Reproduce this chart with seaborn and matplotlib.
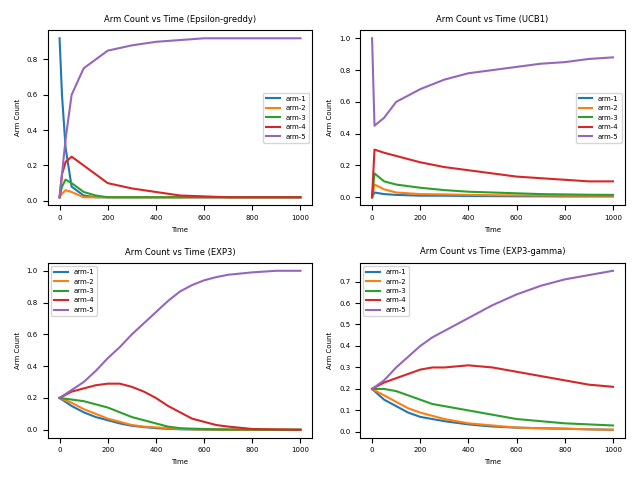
import matplotlib
matplotlib.use("Agg")
import matplotlib.pyplot as plt
import seaborn as sns
import pandas as pd

arms = ["arm-1", "arm-2", "arm-3", "arm-4", "arm-5"]

# Epsilon-greedy
eg_x = [0, 10, 25, 50, 100, 150, 200, 300, 400, 500, 600, 700, 800, 900, 1000]
eg_arm1 = [0.92, 0.6, 0.3, 0.08, 0.03, 0.02, 0.02, 0.02, 0.02, 0.02, 0.02, 0.02, 0.02, 0.02, 0.02]
eg_arm2 = [0.02, 0.04, 0.06, 0.05, 0.02, 0.02, 0.02, 0.02, 0.02, 0.02, 0.02, 0.02, 0.02, 0.02, 0.02]
eg_arm3 = [0.02, 0.08, 0.12, 0.10, 0.05, 0.03, 0.02, 0.02, 0.02, 0.02, 0.02, 0.02, 0.02, 0.02, 0.02]
eg_arm4 = [0.02, 0.15, 0.22, 0.25, 0.20, 0.15, 0.10, 0.07, 0.05, 0.03, 0.025, 0.02, 0.02, 0.02, 0.02]
eg_arm5 = [0.02, 0.15, 0.35, 0.60, 0.75, 0.80, 0.85, 0.88, 0.90, 0.91, 0.92, 0.92, 0.92, 0.92, 0.92]

# UCB1
ucb_x = [0, 10, 50, 100, 200, 300, 400, 500, 600, 700, 800, 900, 1000]
ucb_arm1 = [0.0, 0.03, 0.02, 0.015, 0.01, 0.01, 0.008, 0.007, 0.006, 0.006, 0.005, 0.005, 0.005]
ucb_arm2 = [0.0, 0.08, 0.05, 0.03, 0.02, 0.018, 0.015, 0.013, 0.012, 0.011, 0.01, 0.01, 0.01]
ucb_arm3 = [0.0, 0.15, 0.10, 0.08, 0.06, 0.045, 0.035, 0.03, 0.025, 0.02, 0.018, 0.016, 0.015]
ucb_arm4 = [0.0, 0.30, 0.28, 0.26, 0.22, 0.19, 0.17, 0.15, 0.13, 0.12, 0.11, 0.10, 0.10]
ucb_arm5 = [1.0, 0.45, 0.50, 0.60, 0.68, 0.74, 0.78, 0.80, 0.82, 0.84, 0.85, 0.87, 0.88]

# EXP3
e3_x = [0, 50, 100, 150, 200, 250, 300, 350, 400, 450, 500, 550, 600, 650, 700, 800, 900, 1000]
e3_arm1 = [0.2, 0.15, 0.11, 0.08, 0.06, 0.04, 0.025, 0.017, 0.01, 0.006, 0.003, 0.002, 0.001, 0, 0, 0, 0, 0]
e3_arm2 = [0.2, 0.17, 0.13, 0.10, 0.07, 0.05, 0.03, 0.02, 0.015, 0.01, 0.005, 0.003, 0.002, 0.001, 0, 0, 0, 0]
e3_arm3 = [0.2, 0.19, 0.18, 0.16, 0.14, 0.11, 0.08, 0.06, 0.04, 0.02, 0.01, 0.007, 0.005, 0.003, 0.002, 0.001, 0, 0]
e3_arm4 = [0.2, 0.24, 0.26, 0.28, 0.29, 0.29, 0.27, 0.24, 0.20, 0.15, 0.11, 0.07, 0.05, 0.03, 0.02, 0.005, 0.002, 0]
e3_arm5 = [0.2, 0.25, 0.30, 0.37, 0.45, 0.52, 0.60, 0.67, 0.74, 0.81, 0.87, 0.91, 0.94, 0.96, 0.975, 0.99, 1.0, 1.0]

# EXP3-gamma
eg3_x = [0, 50, 100, 150, 200, 250, 300, 400, 500, 600, 700, 800, 900, 1000]
eg3_arm1 = [0.2, 0.15, 0.12, 0.09, 0.07, 0.06, 0.05, 0.035, 0.025, 0.02, 0.017, 0.015, 0.012, 0.01]
eg3_arm2 = [0.2, 0.17, 0.14, 0.11, 0.09, 0.075, 0.06, 0.04, 0.03, 0.02, 0.017, 0.015, 0.012, 0.01]
eg3_arm3 = [0.2, 0.20, 0.19, 0.17, 0.15, 0.13, 0.12, 0.10, 0.08, 0.06, 0.05, 0.04, 0.035, 0.03]
eg3_arm4 = [0.2, 0.23, 0.25, 0.27, 0.29, 0.30, 0.30, 0.31, 0.30, 0.28, 0.26, 0.24, 0.22, 0.21]
eg3_arm5 = [0.2, 0.24, 0.30, 0.35, 0.40, 0.44, 0.47, 0.53, 0.59, 0.64, 0.68, 0.71, 0.73, 0.75]

panels = [
    ("Arm Count vs Time (Epsilon-greddy)", eg_x, [eg_arm1, eg_arm2, eg_arm3, eg_arm4, eg_arm5], "center right"),
    ("Arm Count vs Time (UCB1)", ucb_x, [ucb_arm1, ucb_arm2, ucb_arm3, ucb_arm4, ucb_arm5], "center right"),
    ("Arm Count vs Time (EXP3)", e3_x, [e3_arm1, e3_arm2, e3_arm3, e3_arm4, e3_arm5], "upper left"),
    ("Arm Count vs Time (EXP3-gamma)", eg3_x, [eg3_arm1, eg3_arm2, eg3_arm3, eg3_arm4, eg3_arm5], "upper left"),
]

fig, axes = plt.subplots(2, 2, figsize=(6.4, 4.8), dpi=100)
for ax, (title, xs, series, loc) in zip(axes.flat, panels):
    rows = []
    for name, vals in zip(arms, series):
        for x, v in zip(xs, vals):
            rows.append({"Time": x, "Arm Count": v, "arm": name})
    df = pd.DataFrame(rows)
    sns.lineplot(data=df, x="Time", y="Arm Count", hue="arm", ax=ax, linewidth=1.5)
    ax.set_title(title, fontsize=6)
    ax.set_xlabel("Time", fontsize=5)
    ax.set_ylabel("Arm Count", fontsize=5)
    ax.tick_params(labelsize=5)
    ax.legend(loc=loc, fontsize=5)
plt.tight_layout()
fig.savefig("out.png", dpi=100)
